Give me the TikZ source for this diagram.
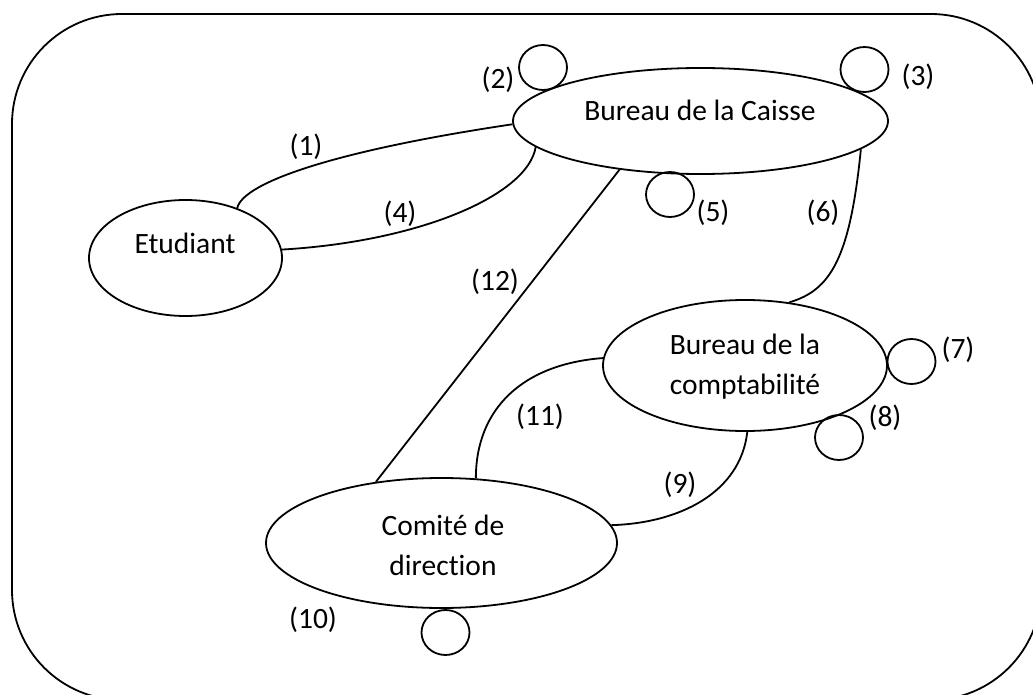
\documentclass[tikz,border=0pt]{standalone}
\usepackage{fontspec}
\setmainfont{Carlito}[Ligatures=NoCommon]
\usetikzlibrary{shapes.geometric}
\begin{document}
\begin{tikzpicture}[x=1pt,y=-1pt,line width=1.8pt,
  ent/.style={draw,ellipse,inner sep=0pt},
  ring/.style={draw,ellipse,inner sep=0pt,minimum width=48pt,minimum height=45pt},
  txt/.style={font=\fontsize{29.5}{40}\selectfont,align=center,inner sep=0pt},
  num/.style={font=\fontsize{29.5}{34}\selectfont,inner sep=0pt}]
\useasboundingbox (0,0) rectangle (1033,695);
\clip (0,0) rectangle (1033,695);
% frame (runs past the right and bottom edges)
\draw[rounded corners=110pt] (12,14) rectangle (1041,700);

% entities
\node[ent,minimum width=193pt,minimum height=116pt] (etu) at (185.5,258) {};
\node[ent,minimum width=375pt,minimum height=106pt] (cai) at (700.5,121) {};
\node[ent,minimum width=284pt,minimum height=131pt] (cpt) at (745,365.5) {};
\node[ent,minimum width=351pt,minimum height=130pt] (com) at (441.5,543) {};

\node[txt] (etu-t) at (185,243) {Etudiant};
\node[txt] (cai-t) at (700,110) {Bureau de la Caisse};
\node[txt] (cpt-t) at (745,367) {Bureau de la\\comptabilité};
\node[txt] (com-t) at (443,545) {Comité de\\direction};

% internal flows
\node[ring] (r2) at (543,67.5) {};
\node[ring] (r3) at (864.5,69.5) {};
\node[ring] (r5) at (670,194.5) {};
\node[ring] (r7) at (911.5,361.5) {};
\node[ring] (r8) at (839,437.5) {};
\node[ring] (r10) at (445.5,632.5) {};

% flows between entities
\draw (etu.44) .. controls +(6,-26) and +(-175,26) .. (cai.181);
\draw (etu.5) .. controls +(138,-8) and +(-8,48) .. (cai.189);
\draw (cai.211) -- (com.137);
\draw (cai.350) .. controls +(-11,110) and +(41,-12) .. (cpt.55);
\draw (cpt.177) .. controls +(-80,6) and +(0,-70) .. (com.62);
\draw (cpt.272) .. controls +(-7,61) and +(68,-2) .. (com.6);

% flow numbers
\node[num] (n1) at (306,147) {(1)};
\node[num] (n2) at (498,80) {(2)};
\node[num] (n3) at (918,77) {(3)};
\node[num] (n4) at (400,214) {(4)};
\node[num] (n5) at (713,213) {(5)};
\node[num] (n6) at (823,213) {(6)};
\node[num] (n7) at (958,350) {(7)};
\node[num] (n8) at (885,418) {(8)};
\node[num] (n9) at (680,485) {(9)};
\node[num] (n10) at (313,620) {(10)};
\node[num] (n11) at (540,417) {(11)};
\node[num] (n12) at (495,282) {(12)};
\end{tikzpicture}
\end{document}
